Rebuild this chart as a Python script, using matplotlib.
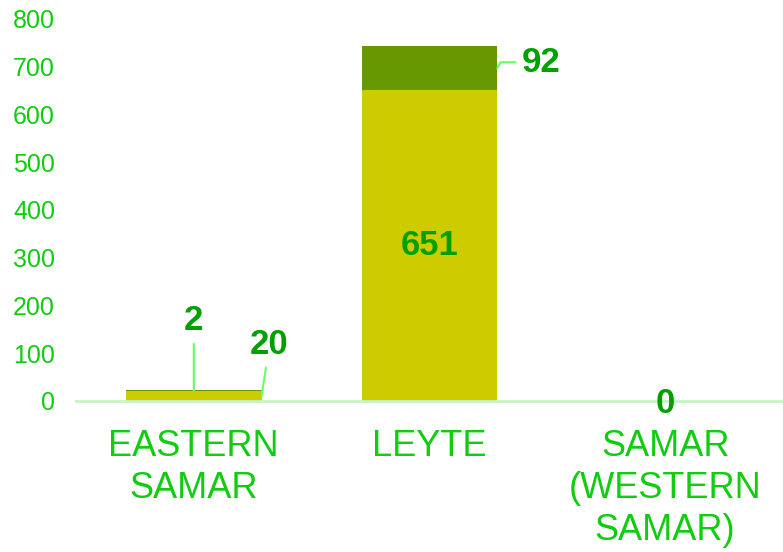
import numpy as np
import matplotlib.pyplot as plt

plt.rcParams['font.family'] = ['Liberation Sans', 'DejaVu Sans']

categories = ['EASTERN\nSAMAR', 'LEYTE', 'SAMAR\n(WESTERN\nSAMAR)']
lower_vals = [20, 651, 0]
upper_vals = [2, 92, 0]
y_ticks = [0, 100, 200, 300, 400, 500, 600, 700, 800]

LOWER_COLOR = '#cccc00'
UPPER_COLOR = '#669900'
TICK_COLOR = '#11cc11'
LABEL_COLOR = '#00a000'
LEADER_COLOR = '#66ff66'

fig = plt.figure(figsize=(7.83, 5.52), dpi=100)
ax = fig.add_axes([0.097, 0.2736, 0.903, 0.692])

x = np.arange(len(categories))
w = 0.575
lower = np.array(lower_vals)
upper = np.array(upper_vals)

ax.bar(x, lower, w, color=LOWER_COLOR, zorder=2)
ax.bar(x, upper, w, bottom=lower, color=UPPER_COLOR, zorder=2)

ax.set_xlim(-0.5, 2.5)
ax.set_ylim(0, 800)
ax.set_yticks(y_ticks)
ax.set_xticks(x)
ax.set_xticklabels(categories, fontsize=26, color=TICK_COLOR, linespacing=1.27)
ax.tick_params(axis='y', length=0, labelsize=18, labelcolor=TICK_COLOR, pad=15)
ax.tick_params(axis='x', length=0, pad=20)
for s in ['top', 'right', 'left']:
    ax.spines[s].set_visible(False)
ax.spines['bottom'].set_color('#c4f5c4')
ax.spines['bottom'].set_linewidth(2)

lbl = dict(fontsize=25, fontweight='bold', color=LABEL_COLOR)
line = dict(arrowstyle='-', color=LEADER_COLOR, lw=1.5, shrinkA=3, shrinkB=0)

# EASTERN SAMAR: labels outside with leader lines
ax.annotate(str(upper_vals[0]), xy=(x[0], lower[0] + upper[0]), xytext=(0, 70),
            textcoords='offset pixels', ha='center', va='center',
            arrowprops=line, **lbl)
ax.annotate(str(lower_vals[0]), xy=(x[0] + w / 2, lower[0] / 2), xytext=(8, 52),
            textcoords='offset pixels', ha='center', va='center',
            arrowprops=line, **lbl)

# LEYTE
ax.text(x[1], lower[1] / 2, str(lower_vals[1]), ha='center', va='center', zorder=3, **lbl)
ax.annotate(str(upper_vals[1]), xy=(x[1] + w / 2, lower[1] + upper[1] / 2), xytext=(25, 6),
            textcoords='offset pixels', ha='left', va='center',
            arrowprops=dict(line, connectionstyle='angle,angleA=0,angleB=60,rad=0'), **lbl)

# SAMAR (WESTERN SAMAR)
ax.annotate(str(lower_vals[2] + upper_vals[2]), xy=(x[2], lower[2] + upper[2]), xytext=(0, -3),
            textcoords='offset pixels', ha='center', va='center', zorder=3, **lbl)

fig.savefig('out.png', dpi=100)
